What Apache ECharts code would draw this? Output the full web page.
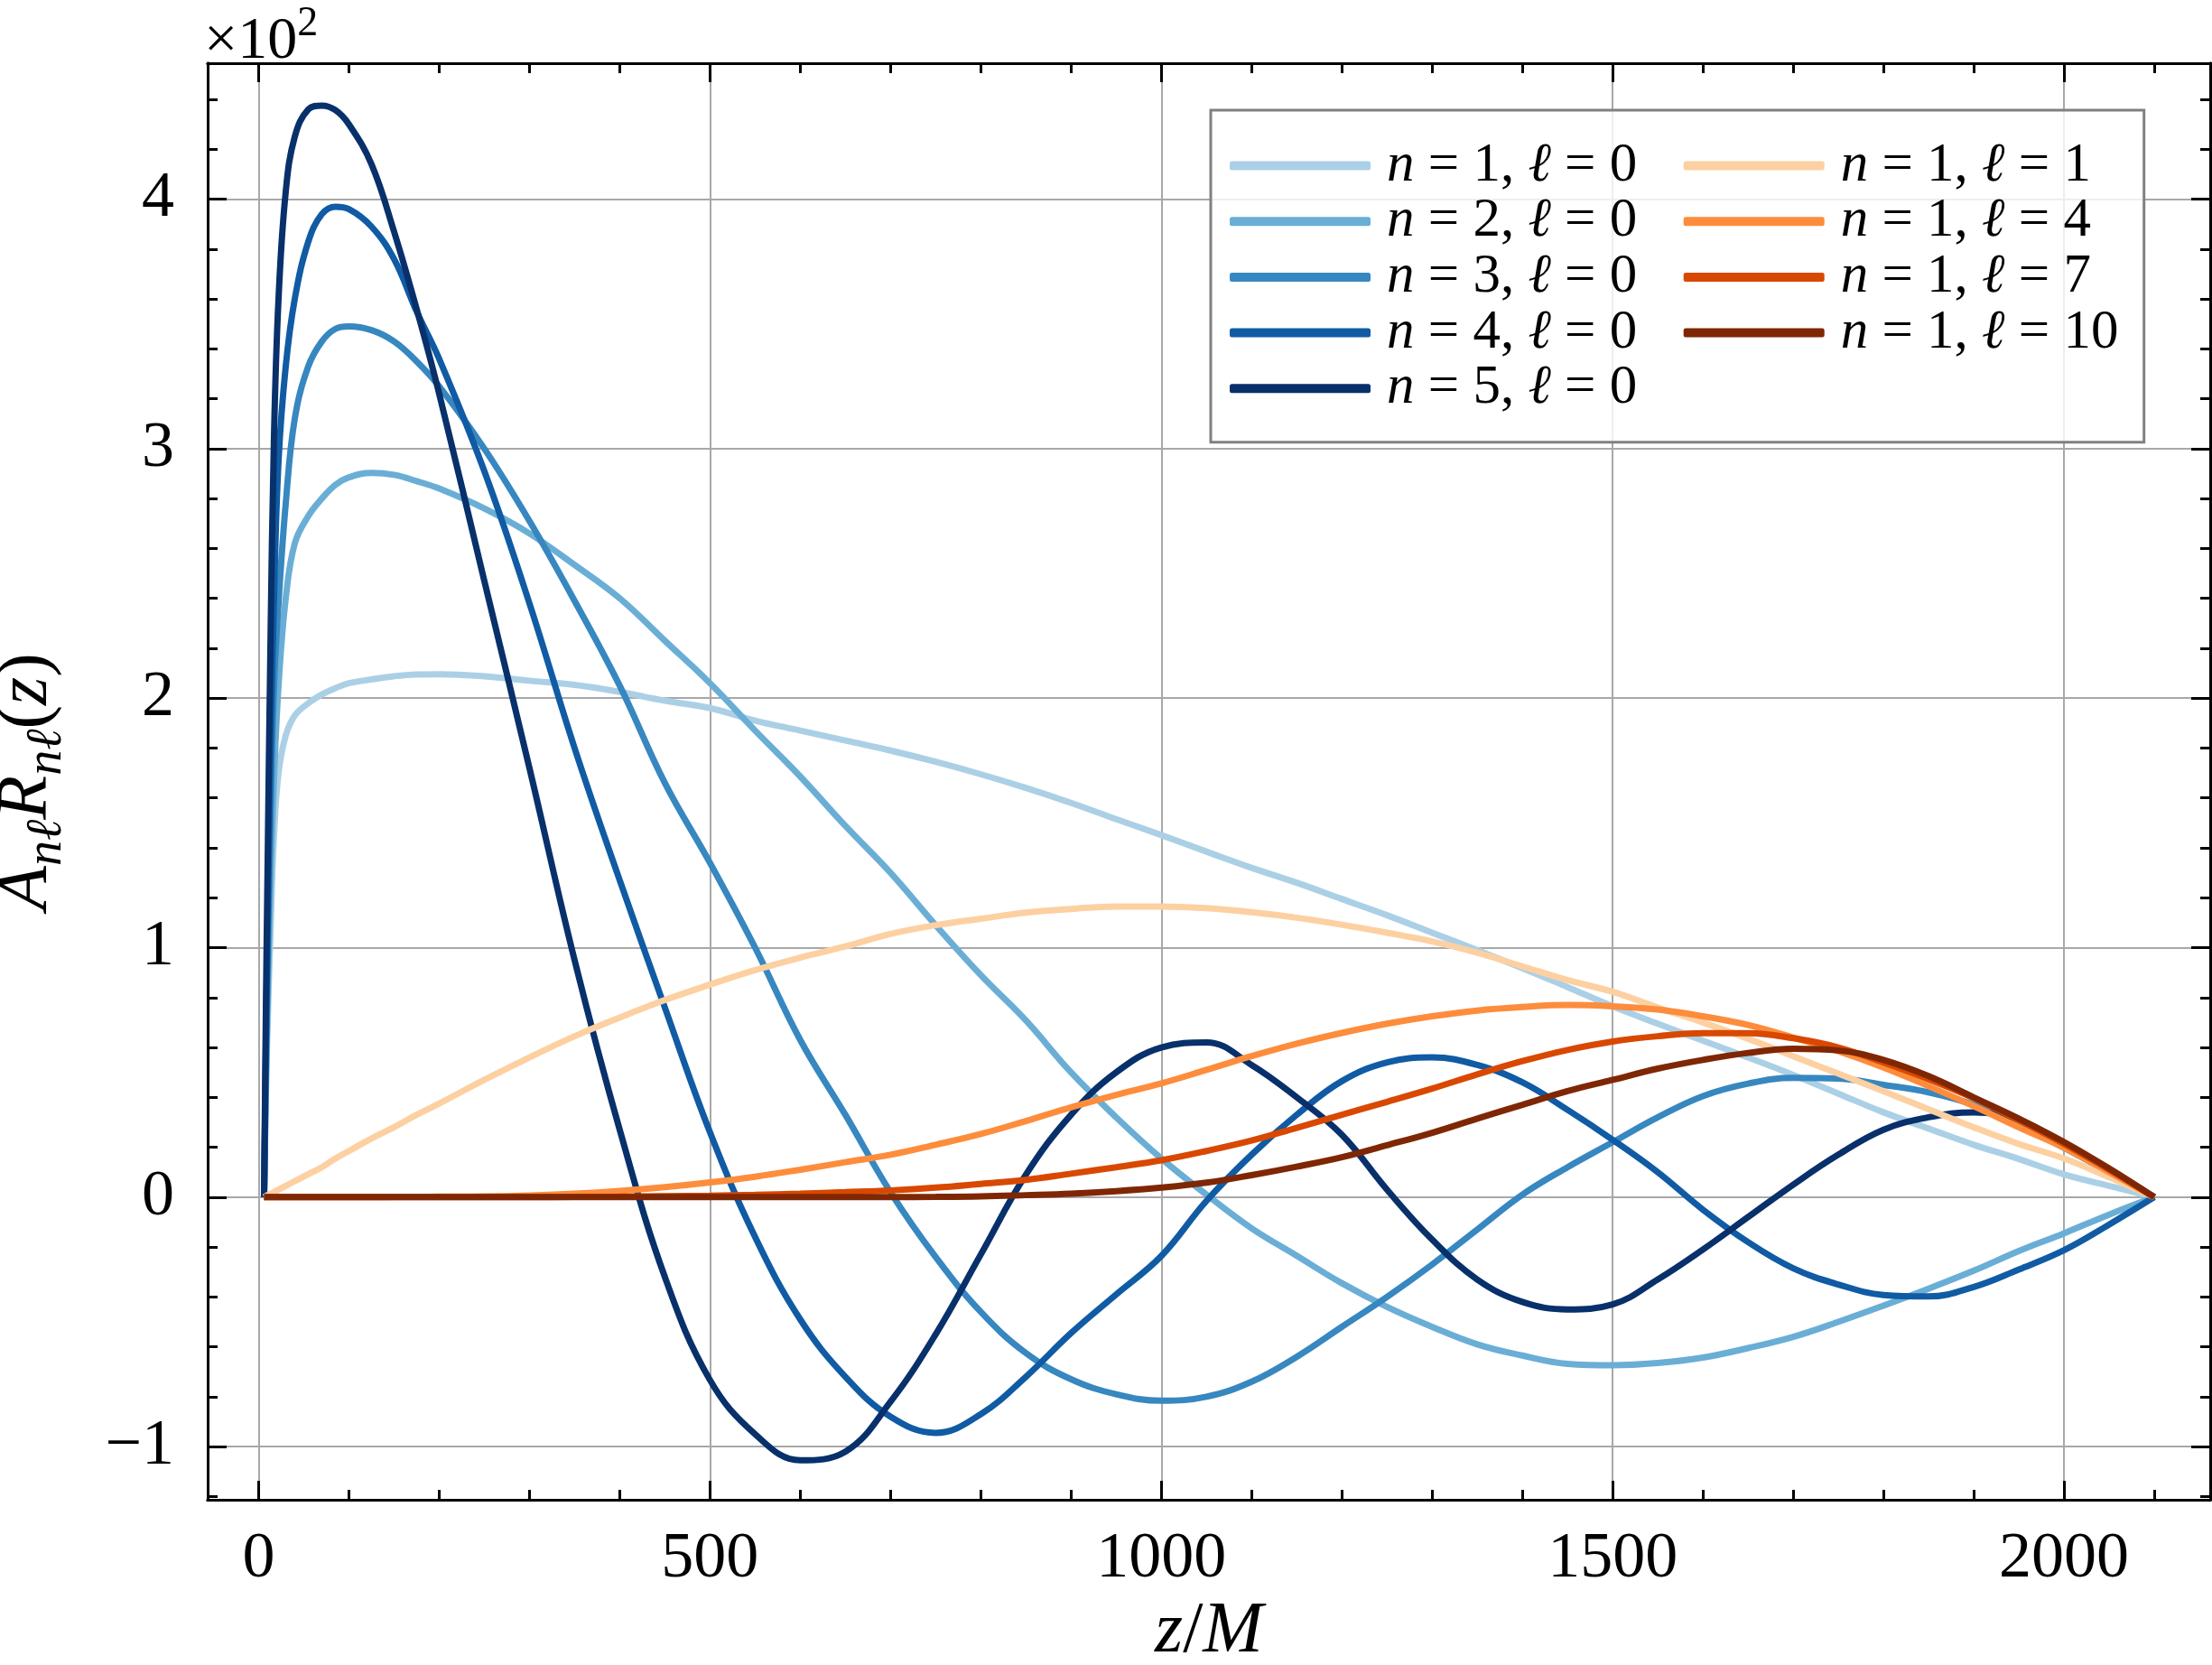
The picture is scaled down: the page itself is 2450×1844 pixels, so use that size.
<!DOCTYPE html>
<html><head><meta charset="utf-8">
<script src="https://cdn.jsdelivr.net/npm/echarts@6/dist/echarts.min.js"></script>
<style>html,body{margin:0;padding:0;background:#fff}#c{width:2450px;height:1844px}</style>
</head><body><div id="c"></div>
<script>
// ---- data (y in units of 10^2) ----
const zGrid = [6, 8, 10, 13, 17, 22, 30, 40, 55, 70, 85, 100, 125, 150, 175, 200,
  250, 300, 350, 400, 450, 500, 550, 600, 650, 700, 750, 800, 850, 900, 950, 1000,
  1050, 1100, 1150, 1200, 1250, 1300, 1350, 1400, 1450, 1500, 1550, 1600, 1650, 1700,
  1750, 1800, 1850, 1900, 1950, 2000, 2050, 2100];

const n1l0 = [0, 0.4, 0.7, 1.05, 1.45, 1.7, 1.85, 1.93, 1.98, 2.015, 2.04, 2.06, 2.075, 2.088, 2.095, 2.096,
  2.088, 2.07, 2.053, 2.025, 1.99, 1.96, 1.91, 1.87, 1.83, 1.79, 1.745, 1.695, 1.64, 1.58, 1.515, 1.451,
  1.385, 1.32, 1.26, 1.195, 1.13, 1.06, 0.99, 0.918, 0.842, 0.765, 0.695, 0.627, 0.56, 0.49,
  0.415, 0.34, 0.275, 0.21, 0.153, 0.091, 0.045, 0];
const n2l0 = [0, 0.45, 0.8, 1.25, 1.68, 2.05, 2.4, 2.62, 2.73, 2.8, 2.855, 2.885, 2.903, 2.895, 2.87, 2.84,
  2.76, 2.66, 2.534, 2.4, 2.23, 2.06, 1.87, 1.686, 1.488, 1.3, 1.09, 0.89, 0.708, 0.5, 0.32, 0.155,
  0.01, -0.125, -0.235, -0.345, -0.44, -0.52, -0.59, -0.635, -0.668, -0.674, -0.665, -0.643, -0.605, -0.56,
  -0.5, -0.435, -0.367, -0.295, -0.216, -0.145, -0.07, 0];
const n3l0 = [0, 0.5, 0.95, 1.5, 2.05, 2.38, 2.78, 3.12, 3.33, 3.43, 3.48, 3.49, 3.475, 3.43, 3.35, 3.25,
  3.0, 2.71, 2.39, 2.05, 1.66, 1.34, 1.0, 0.63, 0.33, 0.02, -0.24, -0.46, -0.625, -0.73, -0.79, -0.816,
  -0.8, -0.74, -0.64, -0.52, -0.4, -0.27, -0.13, 0.01, 0.12, 0.22, 0.32, 0.405, 0.455, 0.478,
  0.475, 0.45, 0.42, 0.37, 0.29, 0.198, 0.1, 0];
const n4l0 = [0, 0.6, 1.1, 1.75, 2.4, 2.95, 3.33, 3.6, 3.83, 3.94, 3.97, 3.96, 3.89, 3.76, 3.55, 3.36,
  2.91, 2.38, 1.8, 1.27, 0.76, 0.26, -0.16, -0.49, -0.72, -0.88, -0.945, -0.87, -0.72, -0.545, -0.39, -0.236,
  -0.015, 0.17, 0.33, 0.465, 0.54, 0.56, 0.53, 0.46, 0.35, 0.23, 0.1, -0.05, -0.18, -0.285,
  -0.35, -0.392, -0.398, -0.36, -0.29, -0.213, -0.11, 0];
const n5l0 = [0, 0.75, 1.35, 2.2, 3.05, 3.6, 4.03, 4.25, 4.36, 4.375, 4.357, 4.3, 4.14, 3.87, 3.56, 3.22,
  2.47, 1.72, 0.95, 0.27, -0.32, -0.733, -0.95, -1.055, -1.02, -0.82, -0.55, -0.23, 0.09, 0.33, 0.5, 0.6,
  0.62, 0.53, 0.4, 0.25, 0.03, -0.17, -0.33, -0.42, -0.45, -0.43, -0.33, -0.21, -0.08, 0.05,
  0.17, 0.27, 0.32, 0.34, 0.31, 0.213, 0.11, 0];
const n1l1 = [0, 0.004, 0.008, 0.013, 0.02, 0.03, 0.045, 0.064, 0.092, 0.12, 0.155, 0.185, 0.235, 0.28, 0.33, 0.375,
  0.47, 0.56, 0.645, 0.72, 0.79, 0.852, 0.91, 0.96, 1.005, 1.055, 1.09, 1.116, 1.14, 1.155, 1.165, 1.165,
  1.158, 1.142, 1.12, 1.092, 1.06, 1.025, 0.98, 0.925, 0.87, 0.823, 0.76, 0.7, 0.635, 0.565,
  0.495, 0.425, 0.352, 0.28, 0.213, 0.155, 0.08, 0];
const n1l4 = [0, 0, 0, 0, 0, 0, 0, 0, 0, 0, 0, 0.0002, 0.0004, 0.0008, 0.0013, 0.002,
  0.003, 0.007, 0.014, 0.025, 0.04, 0.059, 0.082, 0.11, 0.14, 0.17, 0.21, 0.253, 0.305, 0.36, 0.41, 0.456,
  0.51, 0.565, 0.615, 0.658, 0.695, 0.725, 0.748, 0.762, 0.77, 0.765, 0.752, 0.725, 0.69, 0.64,
  0.585, 0.52, 0.445, 0.365, 0.28, 0.198, 0.1, 0];
const n1l7 = [0, 0, 0, 0, 0, 0, 0, 0, 0, 0, 0, 0, 0, 0, 0, 0,
  0, 0.0005, 0.001, 0.002, 0.004, 0.006, 0.009, 0.014, 0.02, 0.027, 0.038, 0.053, 0.069, 0.094, 0.12, 0.148,
  0.185, 0.227, 0.278, 0.33, 0.382, 0.435, 0.492, 0.545, 0.59, 0.624, 0.645, 0.657, 0.657, 0.637,
  0.6, 0.54, 0.473, 0.397, 0.308, 0.213, 0.11, 0];
const n1l10 = [0, 0, 0, 0, 0, 0, 0, 0, 0, 0, 0, 0, 0, 0, 0, 0,
  0, 0, 0, 0, 0, 0, 0, 0, 0, 0.0005, 0.001, 0.003, 0.008, 0.014, 0.024, 0.038,
  0.058, 0.088, 0.122, 0.16, 0.208, 0.258, 0.315, 0.37, 0.425, 0.47, 0.515, 0.55, 0.578, 0.595,
  0.588, 0.55, 0.485, 0.4, 0.315, 0.221, 0.115, 0];

const seriesNames = ['n = 1, ℓ = 0', 'n = 2, ℓ = 0', 'n = 3, ℓ = 0', 'n = 4, ℓ = 0', 'n = 5, ℓ = 0',
  'n = 1, ℓ = 1', 'n = 1, ℓ = 4', 'n = 1, ℓ = 7', 'n = 1, ℓ = 10'];
const seriesValues = [n1l0, n2l0, n3l0, n4l0, n5l0, n1l1, n1l4, n1l7, n1l10];
const seriesColors = ['#abd0e6', '#6aaed6', '#3787c0', '#105ba4', '#08306b',
  '#fdd0a2', '#fd8d3c', '#d94801', '#7f2704'];

const xMajorTicks = [0, 500, 1000, 1500, 2000];
const xMinorTicks = [0, 100, 200, 300, 400, 500, 600, 700, 800, 900, 1000, 1100, 1200, 1300, 1400,
  1500, 1600, 1700, 1800, 1900, 2000, 2100];
const yMajorTicks = [-1, 0, 1, 2, 3, 4];
const yMinorTicks = [-1.2, -1.0, -0.8, -0.6, -0.4, -0.2, 0, 0.2, 0.4, 0.6, 0.8, 1.0, 1.2, 1.4, 1.6, 1.8,
  2.0, 2.2, 2.4, 2.6, 2.8, 3.0, 3.2, 3.4, 3.6, 3.8, 4.0, 4.2, 4.4];

// ---- chart ----
const FONT = "'Liberation Serif', 'DejaVu Serif', serif";
const XMIN = -56.5, XMAX = 2162, YMIN = -1.213, YMAX = 4.545;
const chart = echarts.init(document.getElementById('c'), null, {renderer: 'canvas'});

function richLabel(name) {
  const m = name.match(/n = (\d+), ℓ = (\d+)/);
  return '{i|n}{r| = ' + m[1] + ', }{i|ℓ}{r| = ' + m[2] + '}';
}

const axisLineStyle = {color: '#000', width: 3};
function xAx(pos, major, extra) {
  return Object.assign({
    type: 'value', gridIndex: 0, position: pos, min: XMIN, max: XMAX,
    axisLine: {show: true, onZero: false, lineStyle: axisLineStyle},
    axisTick: {show: true, inside: true, length: major ? 21 : 11,
      customValues: major ? xMajorTicks : xMinorTicks, lineStyle: {color: '#000', width: 3}},
    axisLabel: {show: false},
    splitLine: {show: false}
  }, extra || {});
}
function yAx(pos, major, extra) {
  return Object.assign({
    type: 'value', gridIndex: 0, position: pos, min: YMIN, max: YMAX,
    axisLine: {show: true, onZero: false, lineStyle: axisLineStyle},
    axisTick: {show: true, inside: true, length: major ? 21 : 11,
      customValues: major ? yMajorTicks : yMinorTicks, lineStyle: {color: '#000', width: 3}},
    axisLabel: {show: false},
    splitLine: {show: false}
  }, extra || {});
}

const series = [];
const order = [5, 6, 7, 8, 0, 1, 2, 3, 4];
order.forEach(k => {
  series.push({
    name: seriesNames[k], type: 'line', xAxisIndex: 0, yAxisIndex: 0,
    data: zGrid.map((z, i) => [z, seriesValues[k][i]]),
    showSymbol: false, symbol: 'none', smooth: 0.4,
    lineStyle: {color: seriesColors[k], width: 7},
    itemStyle: {color: seriesColors[k]},
    z: 3 + k, silent: true
  });
});

const option = {
  animation: false,
  backgroundColor: '#fff',
  grid: {left: 230, top: 70, width: 2218, height: 1591, containLabel: false, outerBoundsMode: 'none'},
  xAxis: [
    xAx('bottom', true, {
      axisLabel: {show: true, customValues: xMajorTicks, margin: 30, color: '#000',
        fontFamily: FONT, fontSize: 72, formatter: v => String(v)},
      splitLine: {show: true, lineStyle: {color: '#a8a8a8', width: 2}},
      name: '{i|z}{r|/}{i|M}', nameLocation: 'middle', nameGap: 100,
      nameTextStyle: {fontFamily: FONT, fontSize: 78, color: '#000',
        rich: {i: {fontFamily: FONT, fontStyle: 'italic', fontSize: 80, color: '#000'},
               r: {fontFamily: FONT, fontSize: 80, color: '#000'}}}
    }),
    xAx('bottom', false),
    xAx('top', true),
    xAx('top', false)
  ],
  yAxis: [
    yAx('left', true, {
      axisLabel: {show: true, customValues: yMajorTicks, margin: 37, color: '#000',
        fontFamily: FONT, fontSize: 72, formatter: v => (v < 0 ? '\u2212' + Math.abs(v) : String(v))},
      splitLine: {show: true, lineStyle: {color: '#a8a8a8', width: 2}},
      name: '{i|A}{s|nℓ}{i|R}{s|nℓ}{r|(}{i|z}{r|)}', nameLocation: 'middle', nameRotate: 90, nameGap: 150,
      nameTextStyle: {fontFamily: FONT, fontSize: 78, color: '#000',
        rich: {i: {fontFamily: FONT, fontStyle: 'italic', fontSize: 80, lineHeight: 100, color: '#000'},
               r: {fontFamily: FONT, fontSize: 80, lineHeight: 100, color: '#000'},
               s: {fontFamily: FONT, fontStyle: 'italic', fontSize: 56, lineHeight: 40, verticalAlign: 'bottom', color: '#000'}}}
    }),
    yAx('left', false),
    yAx('right', true),
    yAx('right', false)
  ],
  legend: {
    orient: 'vertical', left: 1341, top: 122, height: 335,
    padding: [31, 8, 29, 21],
    itemWidth: 156, itemHeight: 10, itemGap: 0.7, icon: 'roundRect',
    backgroundColor: 'rgba(255,255,255,0.8)', borderColor: '#808080', borderWidth: 3, borderRadius: 0,
    selectedMode: false,
    data: seriesNames,
    formatter: name => richLabel(name),
    textStyle: {fontFamily: FONT, fontSize: 60, lineHeight: 60, color: '#000', width: 328, padding: [0, 0, 0, 13],
      rich: {i: {fontFamily: FONT, fontStyle: 'italic', fontSize: 61, lineHeight: 60, color: '#000'},
             r: {fontFamily: FONT, fontSize: 61, lineHeight: 60, color: '#000'}}}
  },
  graphic: [{
    type: 'text', left: 226, top: 4, z: 10,
    style: {text: '{m|×10}{s|2}', fill: '#000',
      rich: {m: {fontFamily: FONT, fontSize: 66, lineHeight: 76, verticalAlign: 'bottom', fill: '#000'},
             s: {fontFamily: FONT, fontSize: 46, lineHeight: 46, verticalAlign: 'top', fill: '#000'}}}
  }],
  series: series
};
chart.setOption(option);
</script>
</body></html>
